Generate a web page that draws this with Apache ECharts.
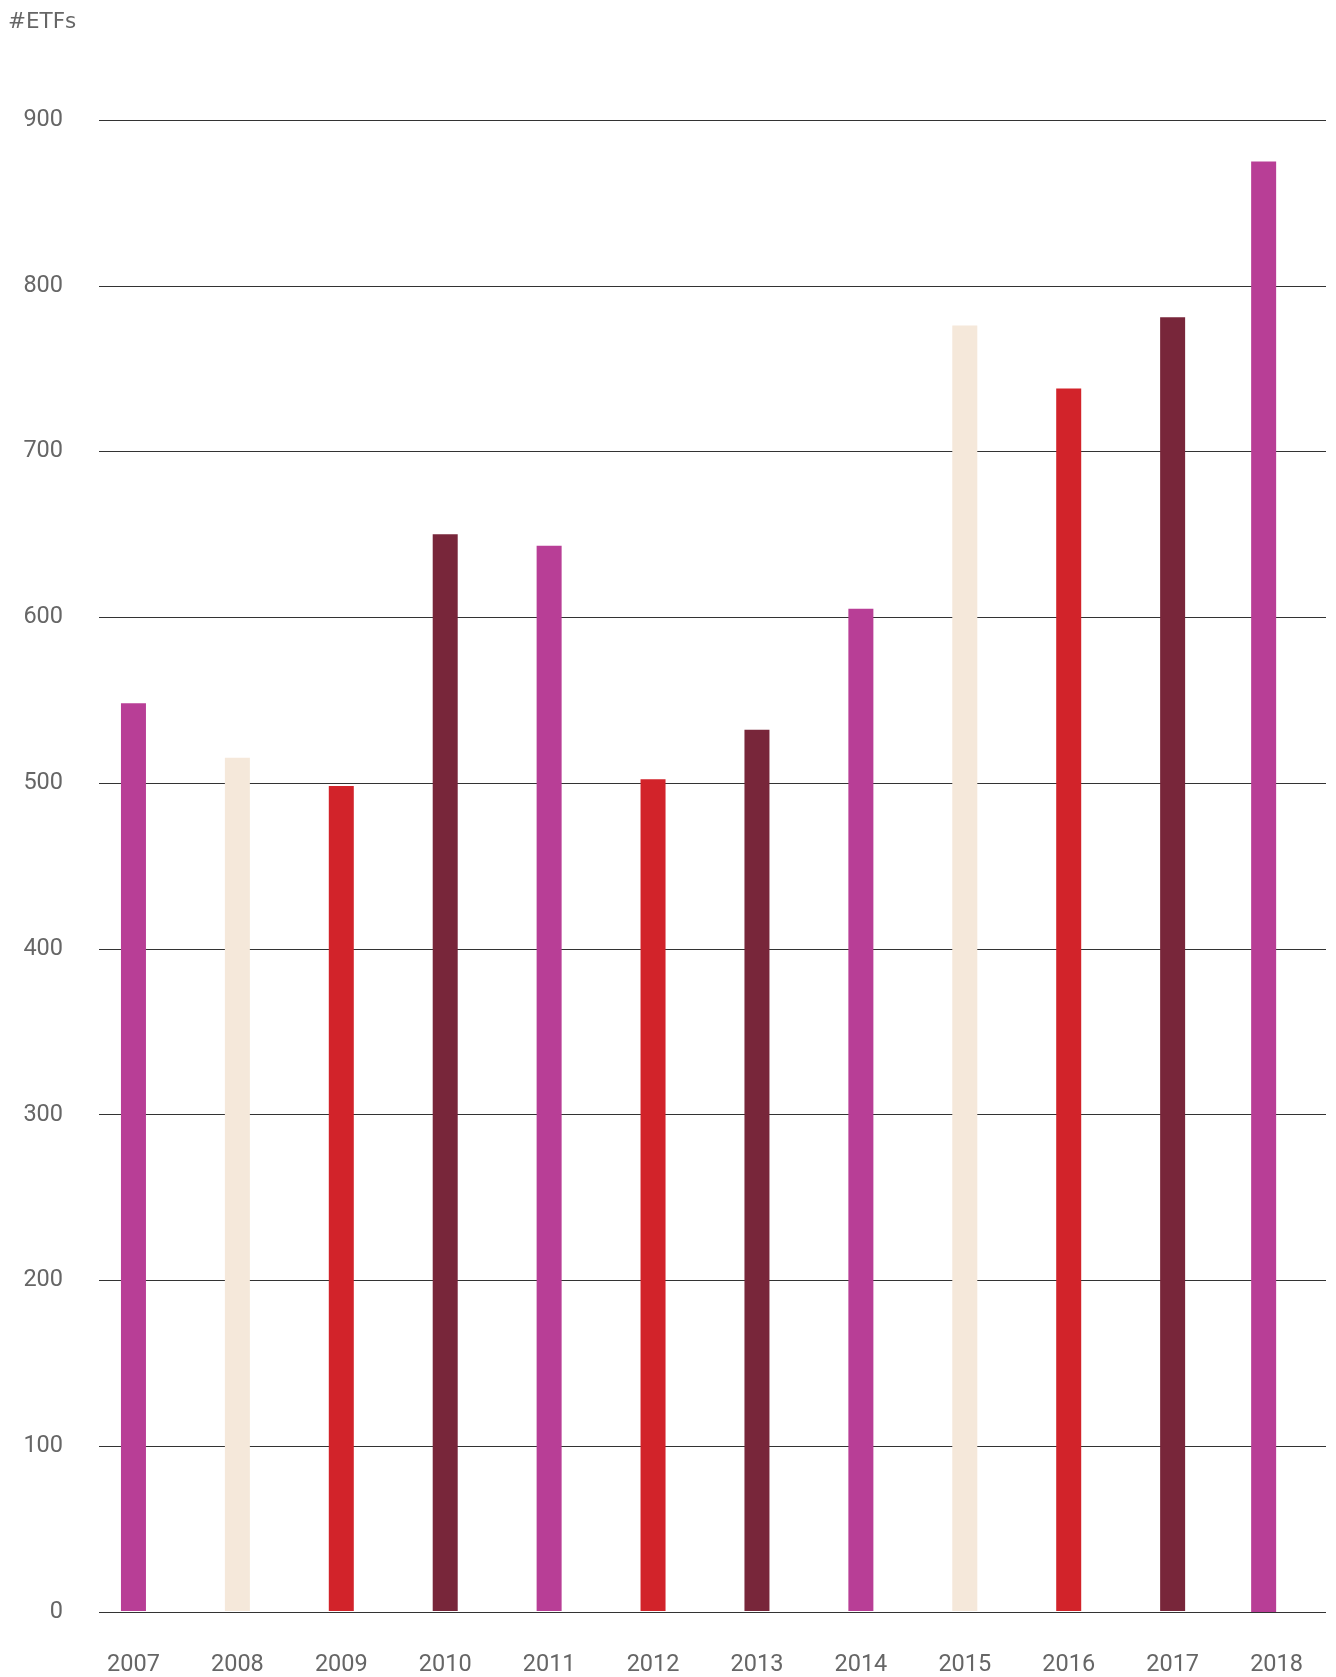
<!DOCTYPE html>
<html>
<head>
<meta charset="utf-8">
<script src="https://cdn.jsdelivr.net/npm/echarts@6/dist/echarts.min.js"></script>
<style>html,body{margin:0;padding:0;background:#fff}#c{width:1336px;height:1677px}</style>
</head>
<body>
<div id="c"></div>
<script>
const years = ['2007','2008','2009','2010','2011','2012','2013','2014','2015','2016','2017','2018'];
const etfCounts = [548, 515, 498, 650, 643, 502, 532, 605, 776, 738, 781, 875];
const MAGENTA = '#B83E96', BEIGE = '#F5E8DA', RED = '#D2232A', MAROON = '#78263A';
const barColors = [MAGENTA, BEIGE, RED, MAROON, MAGENTA, RED, MAROON, MAGENTA, BEIGE, RED, MAROON, MAGENTA];
const yTicks = {min: 0, max: 900, interval: 100};
const axisTitle = '#ETFs';
// the final year's bar sits slightly left of its label in the original
const shiftedYear = '2018';

const chart = echarts.init(document.getElementById('c'), null, {renderer: 'canvas'});
const font = 'Roboto, "Liberation Sans", sans-serif';
const mk = (keep) => etfCounts.map((v, i) => keep(years[i]) ?
  {value: v, itemStyle: {color: barColors[i]}} : null);

chart.setOption({
  animation: false,
  backgroundColor: '#fff',
  title: {
    text: axisTitle, left: 3, top: 6,
    textStyle: {fontFamily: '"DejaVu Sans", sans-serif', fontSize: 21.5, fontWeight: 'normal', color: '#666'}
  },
  grid: [
    {left: 99, right: 10, top: 120, bottom: 65},
    {left: 81.5, right: 7.5, top: 120, bottom: 65},
    {left: 68.6, right: 20.4, top: 120, bottom: 65}
  ],
  xAxis: [
    {gridIndex: 0, type: 'category', data: years, show: false},
    {gridIndex: 1, type: 'category', data: years,
     axisLine: {show: false}, axisTick: {show: false},
     axisLabel: {fontFamily: font, fontSize: 23.5, color: '#666', margin: 42}},
    {gridIndex: 2, type: 'category', data: years, show: false}
  ],
  yAxis: [
    {gridIndex: 0, type: 'value', min: yTicks.min, max: yTicks.max, interval: yTicks.interval,
     axisLine: {show: false}, axisTick: {show: false},
     axisLabel: {fontFamily: font, fontSize: 23.5, color: '#666', margin: 36, padding: [0, 0, 6, 0]},
     splitLine: {show: true, lineStyle: {color: '#333', width: 1.2}}},
    {gridIndex: 1, type: 'value', min: yTicks.min, max: yTicks.max, interval: yTicks.interval, show: false},
    {gridIndex: 2, type: 'value', min: yTicks.min, max: yTicks.max, interval: yTicks.interval, show: false}
  ],
  series: [
    {type: 'bar', xAxisIndex: 1, yAxisIndex: 1, barWidth: 25, z: 3, data: mk(y => y !== shiftedYear)},
    {type: 'bar', xAxisIndex: 2, yAxisIndex: 2, barWidth: 25, z: 3, data: mk(y => y === shiftedYear)}
  ]
});
</script>
</body>
</html>
